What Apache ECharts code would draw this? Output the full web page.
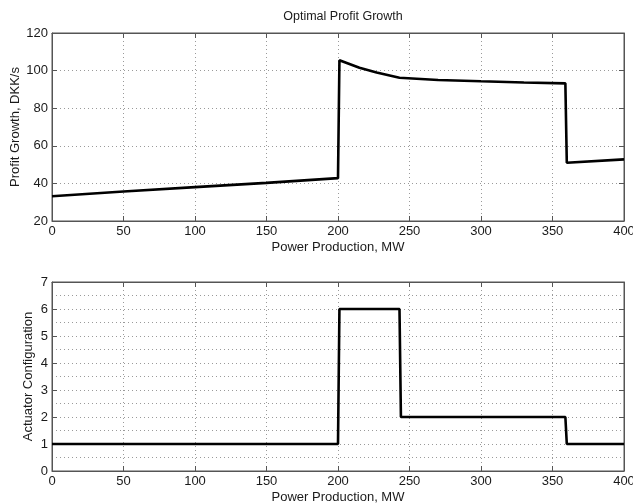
<!DOCTYPE html>
<html><head><meta charset="utf-8">
<script src="https://cdn.jsdelivr.net/npm/echarts@6/dist/echarts.min.js"></script>
<style>html,body{margin:0;padding:0;background:#fff}#c{width:633px;height:503px}</style>
</head><body><div id="c"></div>
<script>
const titleText = "Optimal Profit Growth";
const xName = "Power Production, MW";
const topYName = "Profit Growth, DKK/s";
const botYName = "Actuator Configuration";
const profitX = [0, 50, 100, 150, 200, 201, 215, 227, 243, 270, 300, 330, 359, 360, 400];
const profitY = [33.2, 35.7, 38.0, 40.3, 42.8, 105.5, 101.5, 99.0, 96.2, 95.0, 94.3, 93.7, 93.2, 51.0, 52.8];
const actX = [0, 200, 201, 243, 244, 359, 360, 400];
const actY = [1, 1, 6, 6, 2, 2, 1, 1];

const FONT = "Liberation Sans";
const TC = '#1a1a1a';
const axisLineC = '#555';
const gridLine = {show:true, lineStyle:{color:'#9a9a9a', type:[1,3], width:1}};
function xMain(gi, gap){
  return {type:'value', gridIndex:gi, min:0, max:400, interval:50,
    name:xName, nameLocation:'middle', nameGap:gap, nameMoveOverlap:false,
    nameTextStyle:{fontFamily:FONT, fontSize:13, color:TC},
    axisLine:{show:true, onZero:false, lineStyle:{color:axisLineC}},
    axisTick:{show:true, inside:true, length:5, lineStyle:{color:axisLineC}},
    axisLabel:{fontFamily:FONT, fontSize:13, color:TC, margin:4},
    splitLine:gridLine};
}
function xTop(gi){
  return {type:'value', gridIndex:gi, position:'top', min:0, max:400, interval:50,
    axisLine:{show:true, onZero:false, lineStyle:{color:axisLineC}},
    axisTick:{show:true, inside:true, length:5, lineStyle:{color:axisLineC}},
    axisLabel:{show:false}, splitLine:{show:false}};
}
const option = {
  animation:false,
  backgroundColor:'#fff',
  title:{text:titleText, left:338, top:5, textAlign:'center',
    textStyle:{fontFamily:FONT, fontSize:12.5, fontWeight:'normal', color:TC}},
  grid:[
    {left:52, right:9, top:33, height:188, show:true, borderColor:axisLineC, borderWidth:1, outerBoundsMode:'none', containLabel:false},
    {left:52, right:9, top:282, height:189, show:true, borderColor:axisLineC, borderWidth:1, outerBoundsMode:'none', containLabel:false}
  ],
  xAxis:[xMain(0, 20), xTop(0), xMain(1, 20), xTop(1)],
  yAxis:[
    {type:'value', gridIndex:0, min:20, max:120, interval:20,
     name:topYName, nameLocation:'middle', nameGap:30, nameMoveOverlap:false,
     nameTextStyle:{fontFamily:FONT, fontSize:13, color:TC},
     axisLine:{show:true, onZero:false, lineStyle:{color:axisLineC}},
     axisTick:{show:true, inside:true, length:5, lineStyle:{color:axisLineC}},
     axisLabel:{fontFamily:FONT, fontSize:13, color:TC, margin:4},
     splitLine:gridLine},
    {type:'value', gridIndex:0, position:'right', min:20, max:120, interval:20,
     axisLine:{show:true, onZero:false, lineStyle:{color:axisLineC}},
     axisTick:{show:true, inside:true, length:5, lineStyle:{color:axisLineC}},
     axisLabel:{show:false}, splitLine:{show:false}},
    {type:'value', gridIndex:1, min:0, max:7, interval:1,
     name:botYName, nameLocation:'middle', nameGap:17, nameMoveOverlap:false,
     nameTextStyle:{fontFamily:FONT, fontSize:13, color:TC},
     axisLine:{show:true, onZero:false, lineStyle:{color:axisLineC}},
     axisTick:{show:true, inside:true, length:5, lineStyle:{color:axisLineC}},
     axisLabel:{fontFamily:FONT, fontSize:13, color:TC, margin:4},
     minorTick:{show:false, splitNumber:2},
     minorSplitLine:{show:true, lineStyle:{color:'#9a9a9a', type:[1,3], width:1}},
     splitLine:gridLine},
    {type:'value', gridIndex:1, position:'right', min:0, max:7, interval:1,
     axisLine:{show:true, onZero:false, lineStyle:{color:axisLineC}},
     axisTick:{show:true, inside:true, length:5, lineStyle:{color:axisLineC}},
     axisLabel:{show:false}, splitLine:{show:false}}
  ],
  series:[
    {type:'line', xAxisIndex:0, yAxisIndex:0, showSymbol:false, symbol:'none',
     data:profitX.map((x,i)=>[x, profitY[i]]),
     lineStyle:{color:'#000', width:2.6}},
    {type:'line', xAxisIndex:2, yAxisIndex:2, showSymbol:false, symbol:'none',
     data:actX.map((x,i)=>[x, actY[i]]),
     lineStyle:{color:'#000', width:2.6}}
  ]
};
echarts.init(document.getElementById('c'), null, {renderer:'canvas'}).setOption(option);
</script>
</body></html>
